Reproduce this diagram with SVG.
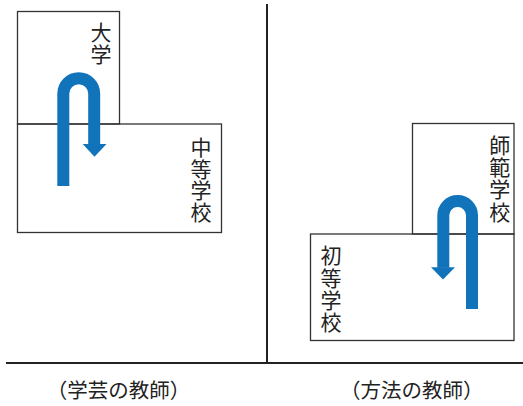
<svg xmlns="http://www.w3.org/2000/svg" width="523" height="406" viewBox="0 0 523 406">
<style>
.box{fill:none;stroke:#333;stroke-width:1.3}
.lbl{font-family:"Noto Sans CJK JP","Noto Sans CJK SC",sans-serif;font-size:21px;fill:#222;text-anchor:middle;dominant-baseline:central}
.cap{font-family:"Noto Sans CJK JP","Noto Sans CJK SC",sans-serif;font-size:20.5px;fill:#222;text-anchor:middle;dominant-baseline:central}
.rule{stroke:#222;stroke-width:2;fill:none}
.arr{fill:none;stroke:#1173BA;stroke-width:12}
.head{fill:#1173BA}
</style>
<rect width="523" height="406" fill="#fff"/>
<g id="rules">
<line class="rule" x1="267" y1="4" x2="267" y2="363"/>
<line class="rule" x1="6" y1="363" x2="523" y2="363"/>
</g>
<g id="daigaku">
<rect class="box" x="17.5" y="11.5" width="102" height="112.5"/>
<text class="lbl" x="101" y="31">大</text>
<text class="lbl" x="101" y="52.5">学</text>
</g>
<g id="chuto">
<rect class="box" x="17.5" y="124" width="204" height="108.5"/>
<text class="lbl" x="201" y="146">中</text>
<text class="lbl" x="201" y="167.7">等</text>
<text class="lbl" x="201" y="189.3">学</text>
<text class="lbl" x="201" y="211">校</text>
</g>
<g id="shihan">
<rect class="box" x="412.5" y="123.5" width="101.5" height="110.5"/>
<text class="lbl" x="499.7" y="143.8">師</text>
<text class="lbl" x="499.7" y="166">範</text>
<text class="lbl" x="499.7" y="188.3">学</text>
<text class="lbl" x="499.7" y="210.5">校</text>
</g>
<g id="shoto">
<rect class="box" x="310.5" y="234" width="203.5" height="106.5"/>
<text class="lbl" x="331" y="254.4">初</text>
<text class="lbl" x="331" y="276.5">等</text>
<text class="lbl" x="331" y="298.6">学</text>
<text class="lbl" x="331" y="320.6">校</text>
</g>
<g id="connectors">
<path class="arr" d="M63.3,186 V93.75 A15.45,15.45 0 0 1 94.2,93.75 V144.5"/>
<polygon class="head" points="82.7,144 106.5,144 94.5,156.7"/>
<path class="arr" d="M472,309 V215.35 A14.35,14.35 0 0 0 443.3,215.35 V267.8"/>
<polygon class="head" points="431,267.3 455,267.3 443,279.5"/>
</g>
<g id="captions">
<text class="cap" x="118.5" y="389">（学芸の教師）</text>
<text class="cap" x="411.7" y="389">（方法の教師）</text>
</g>
</svg>
